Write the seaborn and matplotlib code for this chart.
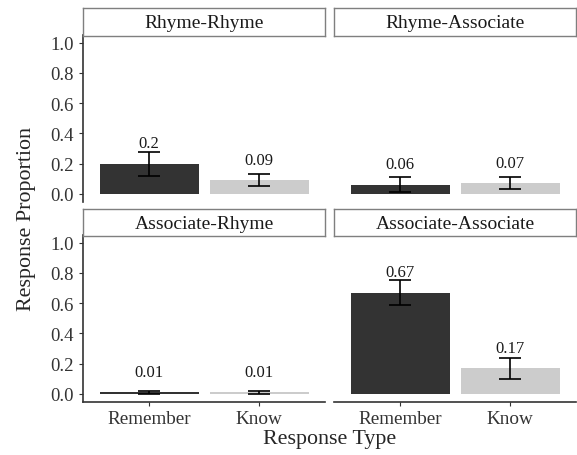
import matplotlib
matplotlib.use("Agg")
import matplotlib.pyplot as plt
import seaborn as sns
import pandas as pd

sns.set_theme(style="white")
plt.rcParams["font.family"] = ["Liberation Serif", "DejaVu Serif"]

conditions = ["Rhyme-Rhyme", "Rhyme-Associate", "Associate-Rhyme", "Associate-Associate"]
response_types = ["Remember", "Know"]
remember = [0.20, 0.06, 0.01, 0.67]
know = [0.09, 0.07, 0.01, 0.17]
remember_err = [0.08, 0.05, 0.01, 0.085]
know_err = [0.04, 0.04, 0.01, 0.07]
y_ticks = [0.0, 0.2, 0.4, 0.6, 0.8, 1.0]

bar_colors = {"Remember": "#333333", "Know": "#cccccc"}

rows = []
for i, cond in enumerate(conditions):
    rows.append({"condition": cond, "type": "Remember", "prop": remember[i], "err": remember_err[i]})
    rows.append({"condition": cond, "type": "Know", "prop": know[i], "err": know_err[i]})
df = pd.DataFrame(rows)

W, H = 577, 456
fig = plt.figure(figsize=(W / 100, H / 100), dpi=100)

def box(x0, x1, y0, y1):
    # pixel box (from top-left) -> figure fraction rect
    return [x0 / W, 1 - y1 / H, (x1 - x0) / W, (y1 - y0) / H]

col_x = [(83, 325), (334, 576)]
row_strip = [(9, 36.5), (210, 236.5)]
row_panel = [(36, 202.5), (236, 402.5)]

for idx, cond in enumerate(conditions):
    r, c = divmod(idx, 2)
    x0, x1 = col_x[c]
    sy0, sy1 = row_strip[r]
    py0, py1 = row_panel[r]

    ax = fig.add_axes(box(x0, x1, py0, py1))
    sub = df[df["condition"] == cond]
    sns.barplot(data=sub, x="type", y="prop", hue="type", order=response_types,
                hue_order=response_types, palette=bar_colors, errorbar=None,
                width=0.9, legend=False, ax=ax, saturation=1, linewidth=0)
    ax.errorbar(range(len(sub)), sub["prop"].values, yerr=sub["err"].values,
                fmt="none", ecolor="black", elinewidth=1.2, capsize=7.9, capthick=1.2)
    for j, v in enumerate(sub["prop"].values):
        ax.text(j, v + 0.11, f"{v:g}", ha="center", va="baseline", fontsize=12,
                color="#1a1a1a")

    ax.set_xlim(-0.6, 1.6)
    ax.set_ylim(-0.05, 1.05)
    ax.set_xlabel(""); ax.set_ylabel("")
    ax.set_facecolor("white")
    for sp in ["top", "right"]:
        ax.spines[sp].set_visible(False)
    ax.spines["left"].set_visible(c == 0)
    ax.spines["bottom"].set_visible(r == 1)
    for sp in ["left", "bottom"]:
        ax.spines[sp].set_color("#333333"); ax.spines[sp].set_linewidth(1.2)

    ax.set_yticks(y_ticks)
    if c == 0:
        ax.set_yticklabels([f"{t:.1f}" for t in y_ticks], fontsize=13.5, color="#333333")
        ax.tick_params(axis="y", left=True, length=3, width=0.8, color="#333333", pad=3.5)
    else:
        ax.tick_params(axis="y", left=False, labelleft=False)
    if r == 1:
        ax.set_xticks([0, 1])
        ax.set_xticklabels(response_types, fontsize=13.8, color="#333333")
        ax.tick_params(axis="x", bottom=True, length=3, width=0.8, color="#333333", pad=3)
    else:
        ax.tick_params(axis="x", bottom=False, labelbottom=False)
    ax.grid(False)

    # facet strip, drawn above the panel so its full border shows
    sax = fig.add_axes(box(x0, x1, sy0, sy1))
    sax.set_xticks([]); sax.set_yticks([])
    for sp in sax.spines.values():
        sp.set_color("#7f7f7f"); sp.set_linewidth(1.0)
    sax.set_facecolor("white")
    sax.text(0.5, 0.46, cond, ha="center", va="center", fontsize=14, color="#1a1a1a",
             transform=sax.transAxes)

fig.text(330 / W, 1 - 440 / H, "Response Type", ha="center", va="center", fontsize=15.8)
fig.text(27 / W, 1 - 219 / H, "Response Proportion", ha="center", va="center",
         rotation=90, fontsize=15.8)

fig.savefig("out.png", dpi=100, facecolor="white")
